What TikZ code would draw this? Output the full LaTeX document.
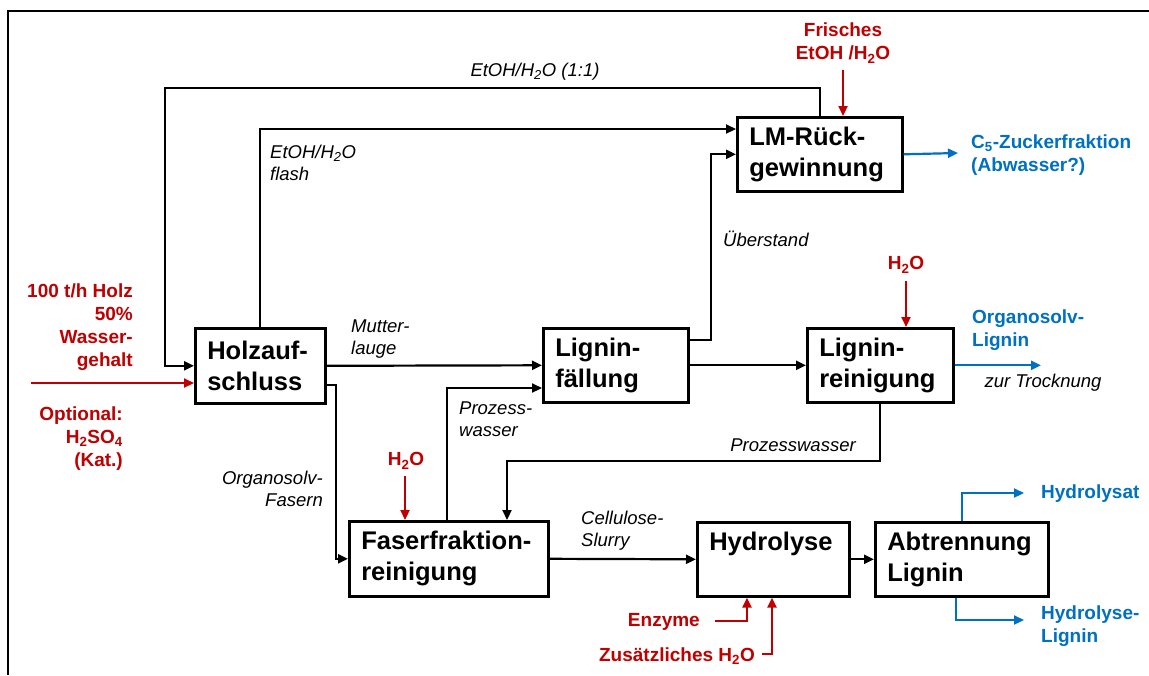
\documentclass[tikz,border=0pt]{standalone}
\usepackage{fontspec}
\setmainfont{Liberation Sans}
\usetikzlibrary{arrows.meta}
\definecolor{rd}{HTML}{C00000}
\definecolor{bl}{HTML}{0070C0}
\begin{document}
\begin{tikzpicture}[x=1pt,y=-1pt,
  box/.style={draw, line width=2.6pt, anchor=north west, align=left, inner xsep=12pt, inner ysep=0pt,
    font=\bfseries\fontsize{25.5}{31}\selectfont},
  flow/.style={line width=2.2pt, -{Triangle[length=10pt,width=9pt]}},
  rflow/.style={flow, draw=rd},
  bflow/.style={flow, draw=bl},
  lbl/.style={font=\itshape\fontsize{18.5}{22}\selectfont, inner sep=0pt},
  rlbl/.style={font=\bfseries\fontsize{19}{23}\selectfont, text=rd, inner sep=0pt},
  blbl/.style={font=\bfseries\fontsize{19}{23}\selectfont, text=bl, inner sep=0pt}
]
\useasboundingbox (0,0) rectangle (1149,675);
\draw[line width=2.4pt] (8,675) -- (8,11) -- (1149,11);

% boxes
\node[box, minimum width=130pt, minimum height=75pt, text width=106pt] (holz) at (194,327) {Holzauf-\\schluss};
\node[box, minimum width=145pt, minimum height=74pt, text width=121pt] (lf) at (542,327) {Lignin-\\fällung};
\node[box, minimum width=146pt, minimum height=74pt, text width=122pt] (lr) at (806,327) {Lignin-\\reinigung};
\node[box, minimum width=165pt, minimum height=74pt, text width=141pt] (lm) at (736,116) {LM-Rück-\\gewinnung};
\node[box, minimum width=199pt, minimum height=75pt, text width=175pt] (ff) at (348,520) {Faserfraktion-\\reinigung};
\node[box, minimum width=152pt, minimum height=74pt, text width=128pt] (hy) at (696,521) {Hydrolyse\\\phantom{g}};
\node[box, minimum width=173pt, minimum height=74pt, text width=149pt] (ab) at (874,521) {Abtrennung\\Lignin};

% red labels
\node[rlbl, anchor=east, align=right] (holzin) at (133,327.5) {100 t/h Holz\\50\%\\Wasser-\\gehalt};
\node[rlbl, anchor=east, align=right] (opt) at (123,438.5) {Optional:\\H\textsubscript{2}SO\textsubscript{4}\\(Kat.)};
\node[rlbl, align=center] (frisch) at (843,43) {Frisches\\EtOH /H\textsubscript{2}O};
\node[rlbl] (wa) at (906,265) {H\textsubscript{2}O};
\node[rlbl] (wb) at (406,461) {H\textsubscript{2}O};
\node[rlbl, anchor=east] (enz) at (700,622) {Enzyme};
\node[rlbl, anchor=east] (zus) at (755,656) {Zusätzliches H\textsubscript{2}O};

% blue labels
\node[blbl, anchor=west, align=left] (c5) at (971,155) {C\textsubscript{5}-Zuckerfraktion\\(Abwasser?)};
\node[blbl, anchor=west, align=left] (osl) at (972,330) {Organosolv-\\Lignin};
\node[blbl, anchor=west] (hsat) at (1041,494) {Hydrolysat};
\node[blbl, anchor=west, align=left] (hlig) at (1041,626) {Hydrolyse-\\Lignin};

% italic labels
\node[lbl] (l11) at (535,72) {EtOH/H\textsubscript{2}O (1:1)};
\node[lbl, anchor=west, align=left] (lfl) at (270,163) {EtOH/H\textsubscript{2}O\\flash};
\node[lbl, anchor=west] (lub) at (723,239) {Überstand};
\node[lbl, anchor=west, align=left] (lmu) at (351,339) {Mutter-\\lauge};
\node[lbl, anchor=east, align=right] (lof) at (323,489) {Organosolv-\\Fasern};
\node[lbl, anchor=west, align=left] (lpw) at (459,419) {Prozess-\\wasser};
\node[lbl] (lpw2) at (793,445) {Prozesswasser};
\node[lbl] (ltr) at (1043,383) {zur Trocknung};
\node[lbl, anchor=west, align=left] (lcs) at (581,531) {Cellulose-\\Slurry};

% coordinates
\coordinate (t1) at (165,88);
\coordinate (yf) at (0,129);
\coordinate (u1) at (711,340);
\coordinate (o1) at (336,385);
\coordinate (p1) at (447,388);
\coordinate (p2) at (507,461);
\coordinate (hin) at (31,383);
\coordinate (fr) at (843,70);
\coordinate (a1) at (906,281);
\coordinate (a2) at (405,476);
\coordinate (e1) at (715,621);
\coordinate (e2) at (747,621);
\coordinate (z1) at (762,654);
\coordinate (z2) at (772,654);
\coordinate (c5e) at (958,153);
\coordinate (ose) at (1041,365);
\coordinate (hse) at (1024,493);
\coordinate (hlx) at (956,620);
\coordinate (hle) at (1024,620);

% black flows
\draw[flow] (lm.north) |- (t1) |- (holz.west);
\draw[flow] (holz.north) |- (yf -| lm.west);
\draw[flow] (lf.east |- u1) -- (u1) |- (lm.west);
\draw[flow] (holz.east) -- (lf.west);
\draw[flow] (holz.east |- o1) -- (o1) |- (ff.west);
\draw[flow] (ff.north -| p1) |- (lf.west |- p1);
\draw[flow] (lf.east) -- (lr.west);
\draw[flow] (lr.south) |- (p2) -- (ff.north -| p2);
\draw[flow] (ff.east) -- (hy.west);
\draw[flow] (hy.east) -- (ab.west);

% red flows
\draw[rflow] (hin) -- (hin -| holz.west);
\draw[rflow] (fr) -- (fr |- lm.north);
\draw[rflow] (a1) -- (a1 |- lr.north);
\draw[rflow] (a2) -- (a2 |- ff.north);
\draw[rflow] (e1) -- (e2) -- (e2 |- hy.south);
\draw[rflow] (z1) -- (z2) -- (z2 |- hy.south);

% blue flows
\draw[bflow] (lm.east) -- (c5e);
\draw[bflow] (lr.east) -- (lr.east -| ose);
\draw[bflow] (ab.north) |- (hse);
\draw[bflow] (ab.south -| hlx) |- (hle);
\end{tikzpicture}
\end{document}
